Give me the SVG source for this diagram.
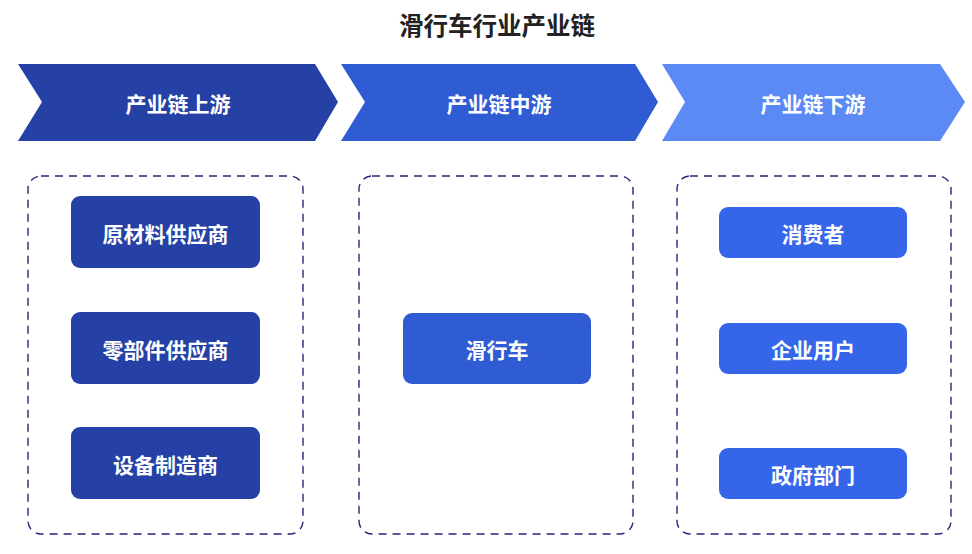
<svg xmlns="http://www.w3.org/2000/svg" width="972" height="554" viewBox="0 0 972 554">
<style>
text{font-family:"Noto Sans CJK SC","Noto Sans",sans-serif;font-weight:bold;text-anchor:middle;dominant-baseline:central}
.t{fill:#222;font-size:24.5px}
.w{fill:#fff;font-size:21px}
.c{fill:none;stroke:#26267a;stroke-width:1.4;stroke-dasharray:8 6}
.d{fill:#2541a6}
.m{fill:#2f5bd3}
.l{fill:#3566ea}
</style>
<rect width="972" height="554" fill="#fff"/>
<text class="t" x="497" y="24">滑行车行业产业链</text>
<g id="stage-upstream">
<polygon points="18,64 315,64 338,102 315,141 18,141 42,102" fill="#2541a6"/>
<text class="w" x="178" y="103">产业链上游</text>
</g>
<g id="stage-midstream">
<polygon points="341,64 635,64 658,102 635,141 341,141 365,102" fill="#2f5bd3"/>
<text class="w" x="499" y="103">产业链中游</text>
</g>
<g id="stage-downstream">
<polygon points="662,64 940,64 965,102 940,141 662,141 685,102" fill="#5b8af5"/>
<text class="w" x="813" y="103">产业链下游</text>
</g>
<g id="group-upstream"><rect class="c" x="28" y="176" width="275" height="358" rx="13"/></g>
<g id="group-midstream"><rect class="c" x="359" y="176" width="274" height="358" rx="13"/></g>
<g id="group-downstream"><rect class="c" x="677" y="176" width="274" height="358" rx="13"/></g>
<g id="raw-material"><rect class="d" x="71" y="196" width="189" height="72" rx="9"/><text class="w" x="165.5" y="233">原材料供应商</text></g>
<g id="parts"><rect class="d" x="71" y="312" width="189" height="72" rx="9"/><text class="w" x="165.5" y="349">零部件供应商</text></g>
<g id="equipment"><rect class="d" x="71" y="427" width="189" height="72" rx="9"/><text class="w" x="165.5" y="464">设备制造商</text></g>
<g id="scooter"><rect class="m" x="403" y="313" width="188" height="71" rx="9"/><text class="w" x="497" y="349">滑行车</text></g>
<g id="consumer"><rect class="l" x="719" y="207" width="188" height="51" rx="9"/><text class="w" x="813" y="233">消费者</text></g>
<g id="enterprise"><rect class="l" x="719" y="323" width="188" height="51" rx="9"/><text class="w" x="813" y="349">企业用户</text></g>
<g id="government"><rect class="l" x="719" y="448" width="188" height="51" rx="9"/><text class="w" x="813" y="474">政府部门</text></g>
<g id="connectors"></g>
</svg>
